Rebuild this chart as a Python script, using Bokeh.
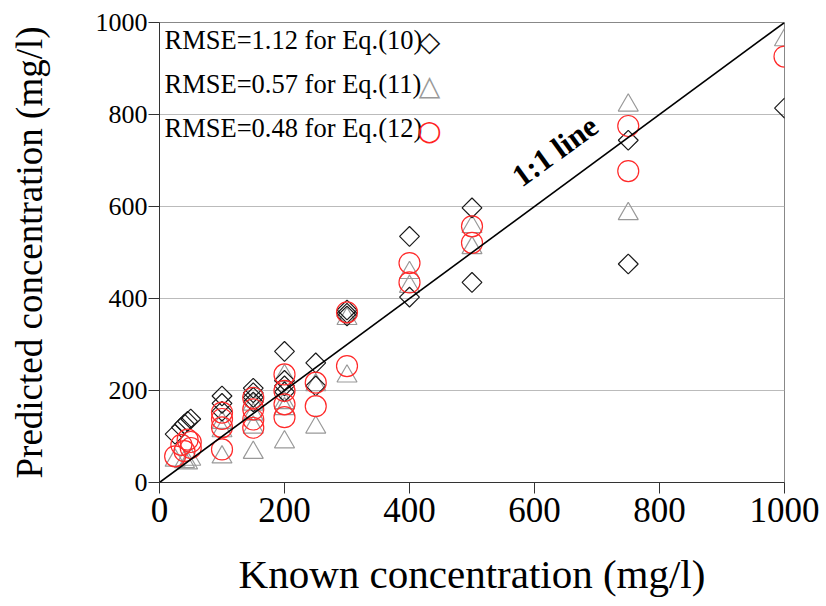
import math
from bokeh.plotting import figure
from bokeh.models import Label, Range1d, Slope, FixedTicker
from bokeh.embed import file_html
from bokeh.resources import INLINE

# Eq.(10) predictions (diamonds)
eq10_x = [25, 35, 40, 45, 50, 100, 100, 100, 150, 150, 150, 150, 200, 200, 200, 200,
          250, 250, 300, 300, 300, 400, 400, 500, 500, 750, 750, 1000]
eq10_y = [105, 120, 127, 133, 138, 188, 172, 155, 205, 195, 185, 175, 285, 222, 210, 197,
          260, 210, 375, 368, 362, 535, 403, 597, 435, 744, 475, 814]

# Eq.(11) predictions (triangles)
eq11_x = [25, 40, 45, 50, 100, 100, 100, 150, 150, 150, 150, 200, 200, 200, 200,
          250, 250, 300, 300, 400, 400, 500, 500, 750, 750, 1000]
eq11_y = [48, 45, 42, 50, 130, 112, 55, 170, 148, 120, 65, 232, 173, 160, 88,
          212, 120, 356, 231, 456, 426, 556, 510, 820, 584, 962]

# Eq.(12) predictions (circles)
eq12_x = [25, 35, 40, 45, 50, 50, 100, 100, 100, 100, 150, 150, 150, 150, 200, 200, 200, 200,
          250, 250, 300, 300, 400, 400, 500, 500, 750, 750, 1000]
eq12_y = [57, 82, 68, 93, 75, 88, 152, 138, 120, 72, 184, 159, 137, 119, 235, 199, 170, 142,
          217, 166, 370, 253, 477, 435, 557, 521, 775, 677, 926]

ticks = [0, 200, 400, 600, 800, 1000]
legend_texts = ["RMSE=1.12 for Eq.(10)", "RMSE=0.57 for Eq.(11)", "RMSE=0.48 for Eq.(12)"]
legend_symbols = ["\u25c7", "\u25b3", "\u25cb"]
legend_colors = ["#111111", "#999999", "#ff2222"]

SERIF = "Liberation Serif"

p = figure(width=826, height=606, output_backend="svg", toolbar_location=None,
           x_range=Range1d(0, 1000), y_range=Range1d(0, 1000),
           min_border_left=159, min_border_right=42, min_border_top=22, min_border_bottom=124)

p.background_fill_color = "white"
p.border_fill_color = "white"
p.outline_line_color = "#888888"
p.outline_line_width = 1

p.xgrid.visible = False
p.ygrid.grid_line_color = "#bbbbbb"
p.ygrid.grid_line_width = 1

for ax in (p.xaxis, p.yaxis):
    ax.ticker = FixedTicker(ticks=ticks)
    ax.minor_tick_line_color = None
    ax.major_tick_in = 0
    ax.major_tick_out = 11
    ax.axis_line_color = "#333333"
    ax.major_tick_line_color = "#333333"
    ax.major_label_text_font = SERIF
    ax.axis_label_text_font = SERIF
    ax.axis_label_text_font_style = "normal"
    ax.major_label_text_color = "black"
    ax.axis_label_text_color = "black"

p.xaxis.axis_label = "Known concentration (mg/l)"
p.xaxis.axis_label_text_font_size = "41px"
p.xaxis.major_label_text_font_size = "35px"
p.xaxis.major_label_standoff = 4
p.xaxis.axis_label_standoff = 26

p.yaxis.axis_label = "Predicted concentration (mg/l)"
p.yaxis.axis_label_text_font_size = "37px"
p.yaxis.major_label_text_font_size = "26px"
p.yaxis.major_label_standoff = 1
p.yaxis.axis_label_standoff = 43

p.add_layout(Slope(gradient=1, y_intercept=0, line_color="black", line_width=1.6))

p.scatter(eq11_x, eq11_y, marker="triangle", size=20, fill_color=None,
          line_color="#999999", line_width=1.2)
p.scatter(eq10_x, eq10_y, marker="square", angle=math.pi / 4, size=14, fill_color=None,
          line_color="#1a1a1a", line_width=1.2)
p.scatter(eq12_x, eq12_y, marker="circle", size=21, fill_color=None,
          line_color="#ff2a2a", line_width=1.2)

p.add_layout(Label(x=649, y=690, text="1:1 line", angle=math.radians(36),
                   text_font=SERIF, text_font_style="bold", text_font_size="31px",
                   text_color="black", text_align="center", text_baseline="bottom"))

leg_y = [962, 866, 770]
for txt, sym, col, yy in zip(legend_texts, legend_symbols, legend_colors, leg_y):
    p.add_layout(Label(x=8, y=yy, text=txt, text_font=SERIF, text_font_size="26.5px",
                       text_color="black", text_baseline="middle", text_align="left"))
    p.add_layout(Label(x=432, y=yy - 4, text=sym, text_font="DejaVu Sans", text_font_size="28px",
                       text_color=col, text_baseline="middle", text_align="center"))

open("out.html", "w").write(file_html(p, INLINE))
